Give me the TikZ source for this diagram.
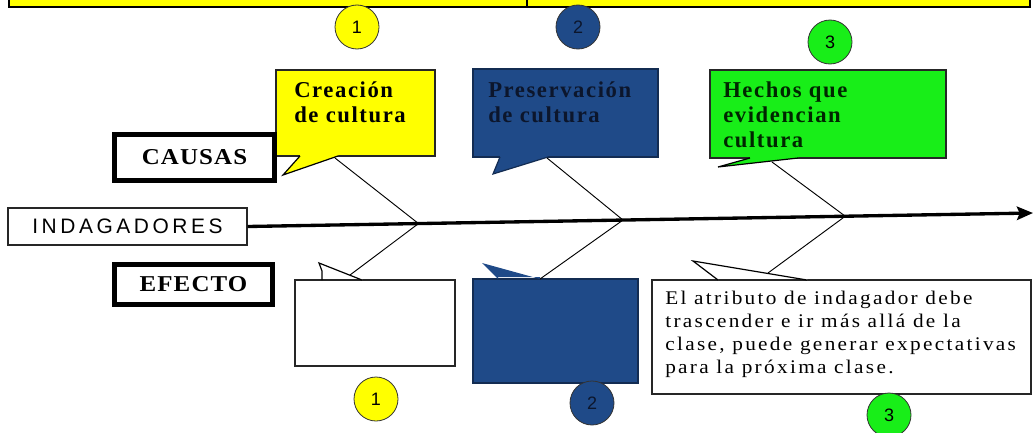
\documentclass[tikz,border=0pt]{standalone}
\usepackage{fontspec}
\setmainfont{Liberation Serif}
\newfontfamily\headfont[LetterSpace=7]{Liberation Serif}
\newfontfamily\labfont[FakeStretch=1.1,LetterSpace=5]{Liberation Serif}
\newfontfamily\bodyfont[FakeStretch=1.1,LetterSpace=12]{Liberation Serif}
\newfontfamily\indfont[LetterSpace=17]{Liberation Sans}
\newfontfamily\numfont{Liberation Sans}
\usetikzlibrary{fit,calc,arrows.meta}
\definecolor{yel}{RGB}{255,255,0}
\definecolor{dblue}{RGB}{31,74,136}
\definecolor{grn}{RGB}{24,238,24}
\definecolor{navytext}{RGB}{12,22,44}
\begin{document}
\begin{tikzpicture}[x=0.75pt,y=-0.75pt,
  rectbox/.style={inner sep=0pt, draw=black!85, line width=0.9pt},
  thickbox/.style={inner sep=0pt, draw=black, line width=3.75pt, font=\labfont\bfseries\fontsize{17}{20}\selectfont},
  headtext/.style={anchor=north west, inner sep=0pt, align=left, font=\headfont\bfseries\fontsize{17}{18.75}\selectfont},
  bodytext/.style={anchor=north west, inner sep=0pt, align=left, font=\bodyfont\fontsize{14.5}{17.25}\selectfont},
  numc/.style={circle, draw=black!80, line width=0.6pt, minimum size=33pt, inner sep=0pt, font=\numfont\fontsize{13.5}{13.5}\selectfont},
  conn/.style={draw=black, line width=0.7pt},
  spine/.style={draw=black, line width=2.5pt, -{Stealth[length=12pt,width=10pt,inset=2pt]}},
  tailline/.style={line width=0.9pt, line join=miter}]
\useasboundingbox (0,0) rectangle (1035,432);
\begin{scope}
\clip (0,0) rectangle (1035,432);
% top bar
\node[fit={(9,-6)(527,7)}, rectbox, draw=black, line width=1.2pt, fill=yel] (barL) {};
\node[fit={(527,-6)(1030,7)}, rectbox, draw=black, line width=1.2pt, fill=yel] (barR) {};
% top circles
\node[numc, fill=yel] (t1) at (357,27) {1};
\node[numc, fill=dblue, text=navytext] (t2) at (578,27) {2};
\node[numc, fill=grn] (t3) at (830,42) {3};
% top callouts
\node[fit={(276,70)(435,156)}, rectbox, fill=yel] (cy) {};
\fill[yel] (300,154) -- (300,156) -- (283,175) -- (338,156) -- (338,154) -- cycle;
\draw[tailline] (300,156) -- (283,175) -- (338,156);
\node[headtext] (cyt) at (294,81) {Creación\\de cultura};

\node[fit={(473,69)(658,157)}, rectbox, draw=dblue!60!black, fill=dblue] (cb) {};
\fill[dblue] (500,155) -- (500,157) -- (493,174) -- (548,157) -- (548,155) -- cycle;
\draw[tailline, draw=dblue!60!black] (500,157) -- (493,174) -- (548,157);
\node[headtext, text=navytext] (cbt) at (488,81) {Preservación\\de cultura};

\node[fit={(710,70)(946,158)}, rectbox, fill=grn] (cg) {};
\fill[grn] (750,156) -- (750,158) -- (718,167) -- (798,158) -- (798,156) -- cycle;
\draw[tailline] (750,158) -- (718,167) -- (798,158);
\node[headtext, text=black!85!green] (cgt) at (723,82) {Hechos que\\evidencian\\cultura};

% labels
\node[thickbox, minimum width=120pt, minimum height=34.5pt] (causas) at (194.5,157.5) {CAUSAS};
\node[thickbox, minimum width=118.5pt, minimum height=30pt] (efecto) at (193.5,284.5) {EFECTO};
\node[rectbox, minimum width=179.25pt, minimum height=27.75pt, font=\indfont\fontsize{15.7}{18}\selectfont] (ind) at (127.5,226.5) {INDAGADORES};

% bottom callouts
\node[fit={(295,280)(455,366)}, rectbox, fill=white] (cw) {};
\fill[white] (322,278) -- (322,271) -- (319,263) -- (362,280) -- (362,278) -- cycle;
\draw[tailline] (322,280) -- (322,271) -- (319,263) -- (362,280);

\node[fit={(473,279)(638,383)}, rectbox, draw=dblue!60!black, fill=dblue] (cb2) {};
\fill[dblue] (498,277) -- (498,279) -- (482,263) -- (540,279) -- (540,277) -- cycle;

\node[fit={(652,280)(1031,394)}, rectbox, fill=white] (cr) {};
\fill[white] (718,278) -- (718,280) -- (693,261) -- (807,280) -- (807,278) -- cycle;
\draw[tailline] (718,280) -- (693,261) -- (807,280);
\node[bodytext] (crt) at (665,291) {El atributo de indagador debe\\trascender e ir más allá de la\\clase, puede generar expectativas\\para la próxima clase.};

% bottom circles
\node[numc, fill=yel] (b1) at (376,399) {1};
\node[numc, fill=dblue, text=navytext] (b2) at (592,403) {2};
\node[numc, fill=grn] (b3) at (889,415) {3};

% spine and connectors
\coordinate (spend) at (1033,213);
\draw[spine] (ind.east) -- (spend);
\coordinate (s1) at ($(ind.east)!0.2176!(spend)$);
\coordinate (s2) at ($(ind.east)!0.478!(spend)$);
\coordinate (s3) at ($(ind.east)!0.761!(spend)$);
\coordinate (cyc) at (335,158);
\coordinate (cbc) at (547,158);
\coordinate (cgc) at (772,162);
\coordinate (cwc) at (350,275);
\coordinate (cb2c) at (540,279);
\coordinate (crc) at (768,273);
\draw[conn] (cyc) -- (s1);
\draw[conn] (s1) -- (cwc);
\draw[conn] (cbc) -- (s2);
\draw[conn] (s2) -- (cb2c);
\draw[conn] (cgc) -- (s3);
\draw[conn] (s3) -- (crc);
\end{scope}
\end{tikzpicture}
\end{document}
